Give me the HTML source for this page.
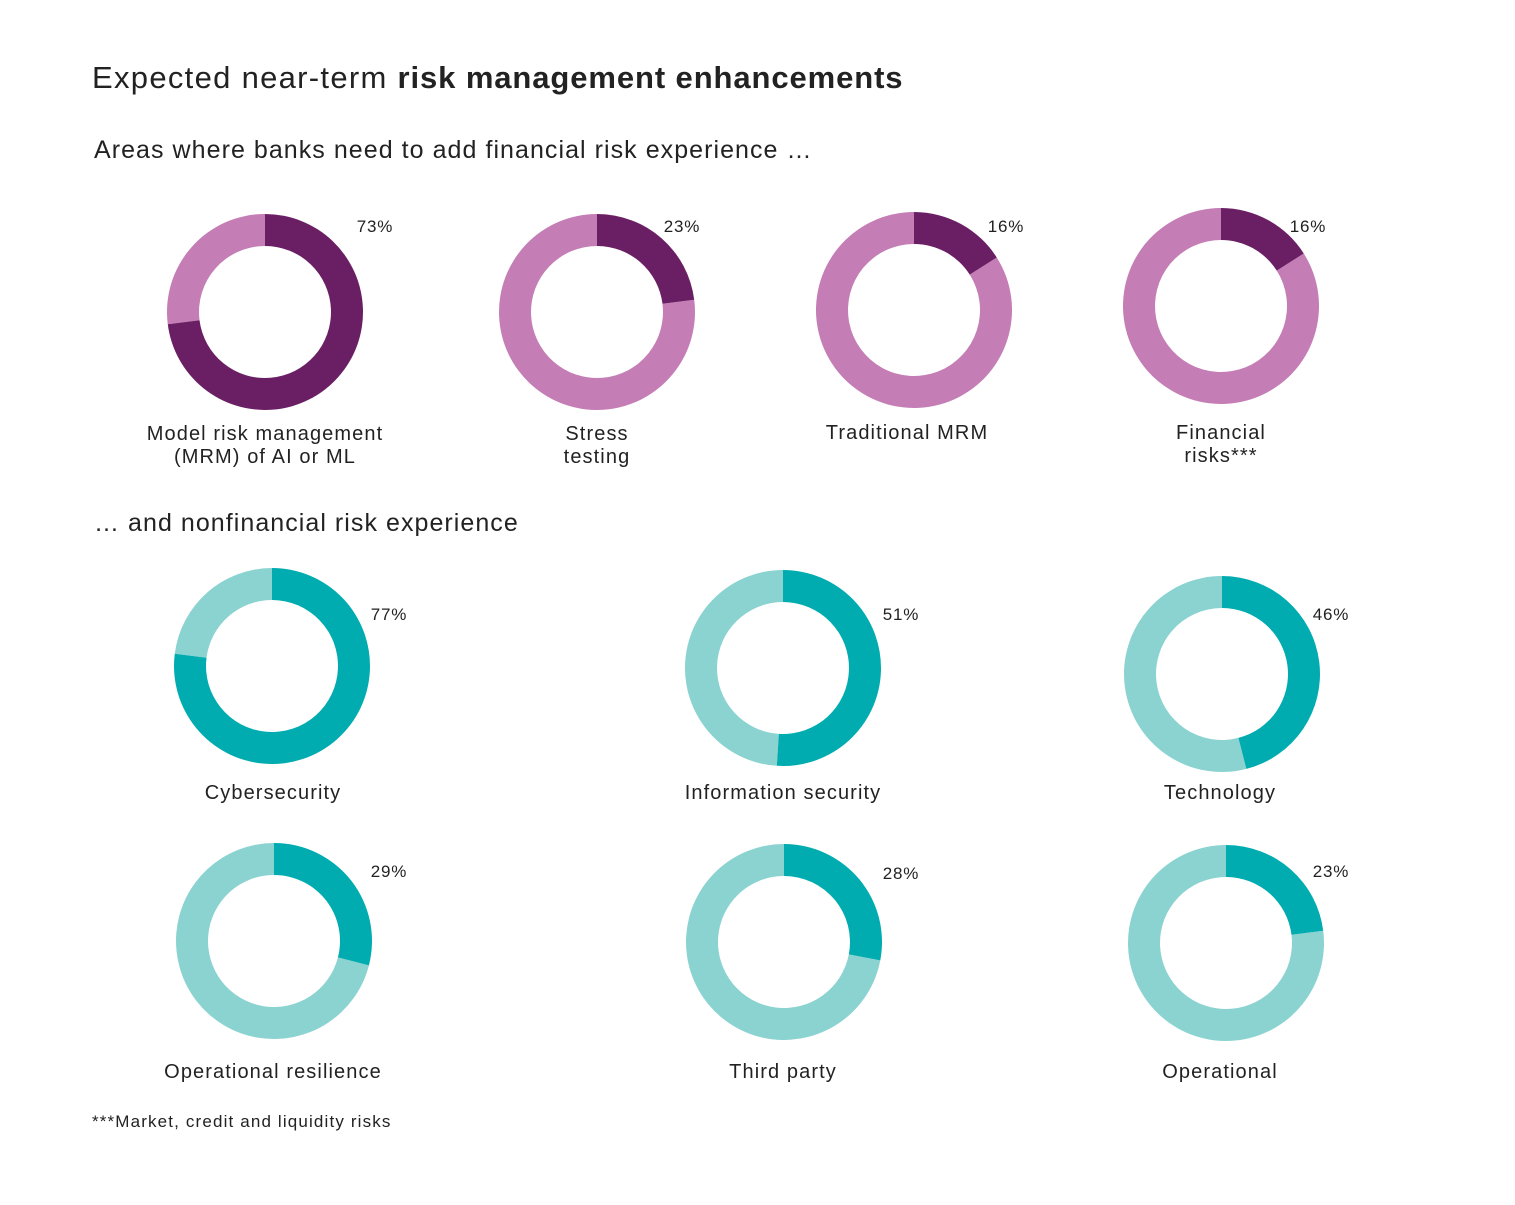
<!DOCTYPE html>
<html><head><meta charset="utf-8">
<style>
body{margin:0;background:#fff;width:1515px;height:1200px;overflow:hidden;font-family:"Liberation Sans",sans-serif;color:#222;}
svg text{font-family:"Liberation Sans",sans-serif;fill:#222;}
</style></head>
<body>
<svg id="chart" width="1515" height="1200" viewBox="0 0 1515 1200">
<text x="92" y="88" font-size="31" letter-spacing="1.3">Expected near-term <tspan font-weight="bold" letter-spacing="0.9">risk management enhancements</tspan></text>
<text x="94" y="158" font-size="25" letter-spacing="1.05">Areas where banks need to add financial risk experience …</text>
<text x="94" y="531" font-size="25" letter-spacing="1.05">… and nonfinancial risk experience</text>
<text x="92" y="1127" font-size="17" letter-spacing="1.15">***Market, credit and liquidity risks</text>
<g id="donuts"></g>
</svg>
<script>
const categories = ["Model risk management|(MRM) of AI or ML","Stress|testing","Traditional MRM","Financial|risks***","Cybersecurity","Information security","Technology","Operational resilience","Third party","Operational"];
const values = [73,23,16,16,77,51,46,29,28,23];
const groups = ["fin","fin","fin","fin","non","non","non","non","non","non"];
const layout = [[265,312],[597,312],[914,310],[1221,306],[272,666],[783,668],[1222,674],[274,941],[784,942],[1226,943]];
const pctPos = [[375,232],[682,232],[1006,232],[1308,232],[389,620],[901,620],[1331,620],[389,877],[901,879],[1331,877]];
const labelPos = [[265,440],[597,440],[907,439],[1221,439],[273,799],[783,799],[1220,799],[273,1078],[783,1078],[1220,1078]];
const colors = {fin:["#6a1f64","#c47db5"],non:["#00acb0","#8ad3d0"]};
const R=98, r=66;
const NS="http://www.w3.org/2000/svg";
const g=document.getElementById("donuts");
function pt(cx,cy,rad,frac){const a=frac*2*Math.PI-Math.PI/2;return [cx+rad*Math.cos(a),cy+rad*Math.sin(a)];}
function arc(cx,cy,f0,f1){
  const large=(f1-f0)>0.5?1:0;
  const [x0,y0]=pt(cx,cy,R,f0),[x1,y1]=pt(cx,cy,R,f1),[x2,y2]=pt(cx,cy,r,f1),[x3,y3]=pt(cx,cy,r,f0);
  return `M${x0},${y0}A${R},${R} 0 ${large} 1 ${x1},${y1}L${x2},${y2}A${r},${r} 0 ${large} 0 ${x3},${y3}Z`;
}
categories.forEach((c,i)=>{
  const [cx,cy]=layout[i]; const v=values[i]/100; const col=colors[groups[i]];
  const slug=c.replace(/\|/g,' ').toLowerCase().replace(/[^a-z]+/g,'-').replace(/-+$/,'');
  const rest=document.createElementNS(NS,"path");
  rest.setAttribute("d",arc(cx,cy,v,0.99999));rest.setAttribute("fill",col[1]);
  
  
  g.appendChild(rest);
  const seg=document.createElementNS(NS,"path");
  seg.setAttribute("d",arc(cx,cy,0,Math.min(v,0.99999)));seg.setAttribute("fill",col[0]);
  
  
  g.appendChild(seg);
  const pct=document.createElementNS(NS,"text");
  pct.setAttribute("x",pctPos[i][0]);pct.setAttribute("y",pctPos[i][1]);pct.setAttribute("font-size","17");
  pct.setAttribute("letter-spacing","0.8");
  pct.setAttribute("text-anchor","middle");pct.textContent=values[i]+"%";
  
  
  g.appendChild(pct);
  const lines=c.split("|");
  const lab=document.createElementNS(NS,"text");
  lab.setAttribute("text-anchor","middle");lab.setAttribute("font-size","20");
  lab.setAttribute("letter-spacing","1.1");
  
  
  lines.forEach((l,j)=>{const t=document.createElementNS(NS,"tspan");t.setAttribute("x",labelPos[i][0]);t.setAttribute("y",labelPos[i][1]+j*23);t.textContent=l;lab.appendChild(t);});
  g.appendChild(lab);
});
</script>
</body></html>
